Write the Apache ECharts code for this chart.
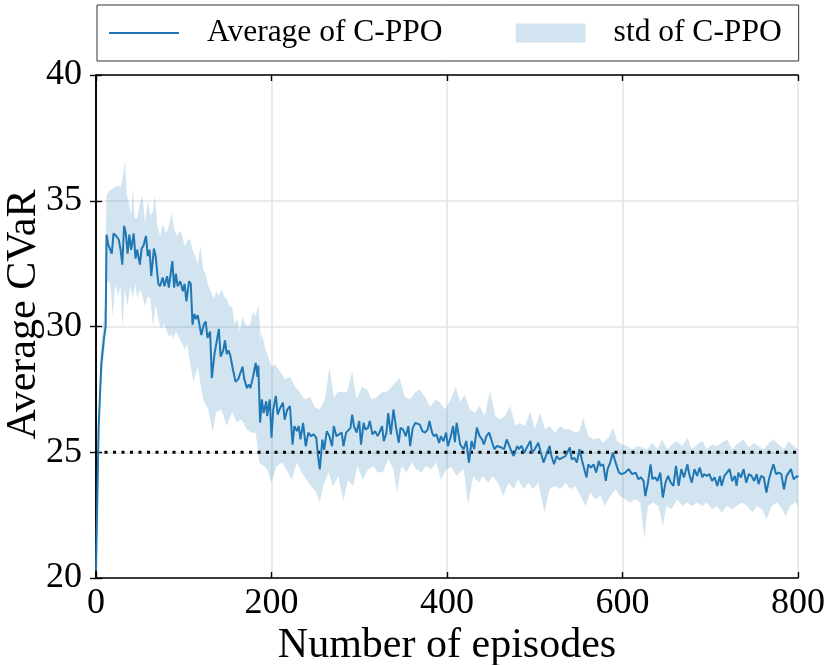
<!DOCTYPE html>
<html>
<head>
<meta charset="utf-8">
<script src="https://cdn.jsdelivr.net/npm/echarts@6/dist/echarts.min.js"></script>
<style>html,body{margin:0;padding:0;background:#fff}#c{width:824px;height:665px}</style>
</head>
<body>
<div id="c"></div>
<script>
// x ticks / y ticks
const xTicks = [0, 200, 400, 600, 800];
const yTicks = [20, 25, 30, 35, 40];
const refLine = 25;

// Average of C-PPO
const meanX = [0,3,6,9,11,12,14,16,18,20,23,26,28,30,32,34,36,38,40,43,45,47,50,52,54,57,59,61,63,66,68,71,73,76,78,81,83,87,89,91,93,96,99,101,103,106,108,110,112,114,116,118,120,123,125,127,130,132,135,137,140,142,145,147,149,151,153,156,159,162,164,167,169,172,174,176,179,182,184,185,187,189,191,194,195,198,200,202,205,207,210,213,215,218,221,224,226,229,231,233,236,239,242,245,248,251,253,255,258,260,263,266,269,271,274,277,280,282,285,287,290,292,294,297,300,302,305,307,310,312,315,318,321,323,326,328,331,333,336,339,342,345,347,350,353,356,358,361,364,366,369,372,375,378,380,383,385,388,391,393,396,399,401,404,407,409,411,415,419,422,425,428,431,434,437,440,442,445,448,451,454,457,459,462,465,468,471,474,476,480,482,485,488,491,495,497,500,504,507,510,514,517,519,522,525,528,531,535,537,540,542,545,548,551,554,556,559,561,564,567,570,573,575,578,581,583,586,589,591,594,596,599,603,607,611,615,618,621,624,626,629,632,634,637,640,643,646,649,652,655,658,661,664,667,670,674,676,679,682,685,688,691,693,696,699,702,705,708,711,713,716,719,722,725,728,730,732,735,738,741,744,747,750,753,755,758,761,764,767,769,772,775,778,781,784,787,789,792,795,799,800];
const meanY = [20.3,26.0,28.5,29.5,30.0,33.65,33.25,33.3,32.9,33.7,33.6,33.45,33.05,32.46,34.0,33.7,32.9,33.65,33.05,33.7,32.7,33.05,32.46,33.1,33.2,33.6,32.8,33.05,32.0,33.1,32.8,31.7,31.6,31.95,31.6,32.0,31.55,32.6,31.55,32.1,31.6,31.8,31.4,31.7,31.0,31.8,31.7,30.07,30.5,30.3,30.45,30.45,29.66,30.1,30.2,29.55,29.8,27.95,28.9,29.3,29.9,28.8,29.05,29.45,28.9,29.05,28.85,28.3,27.8,27.9,28.1,28.4,27.9,27.55,27.7,27.55,28.0,28.55,28.0,28.45,26.18,27.1,26.56,27.03,26.44,27.1,25.58,26.7,27.24,26.5,26.77,26.97,26.3,26.7,26.84,25.3,26.04,25.84,26.04,25.51,26.17,25.24,25.78,25.64,25.71,25.58,24.85,24.32,25.5,25.1,25.84,25.64,25.24,26.04,25.64,25.71,25.78,25.24,25.78,25.71,25.97,26.5,26.04,25.78,26.24,25.3,26.17,25.9,25.97,26.24,25.71,25.84,25.64,25.78,26.04,25.44,25.78,26.56,25.71,26.7,25.97,25.37,25.97,25.9,25.64,26.04,25.24,25.97,26.17,26.17,26.1,25.84,25.78,25.9,26.24,25.78,25.64,25.71,25.37,25.64,25.44,25.78,25.24,25.6,26.04,25.4,26.17,25.31,25.12,25.45,24.59,25.45,25.12,25.98,25.65,25.51,25.31,25.65,25.78,25.45,25.12,25.25,25.19,25.19,25.12,25.51,25.25,24.98,24.85,25.25,25.12,25.25,24.98,25.19,25.45,24.98,25.12,25.38,24.98,24.59,24.98,25.25,24.85,24.52,24.85,24.72,24.78,24.85,24.85,25.19,24.72,24.78,24.59,25.12,24.65,24.72,24.0,24.52,24.39,24.52,24.19,24.65,24.46,24.52,23.86,24.33,24.59,24.98,24.72,24.39,24.19,24.13,24.19,24.33,24.13,24.19,23.93,24.0,23.86,23.26,23.79,24.52,23.93,24.0,23.86,24.19,23.2,23.79,24.06,23.79,23.66,24.46,23.66,24.33,24.0,24.52,24.13,23.79,24.33,24.06,24.39,24.0,24.13,24.06,24.13,23.86,24.0,23.66,24.06,23.66,24.06,24.19,24.33,23.86,24.06,23.66,24.19,24.0,24.33,23.79,24.13,24.06,23.86,24.13,23.73,24.06,24.0,23.4,23.93,24.19,24.52,24.13,24.19,24.13,23.53,24.06,24.13,24.33,23.93,24.06,24.0];

// std band of C-PPO: upper edge
const upperX = [0,5,10,12,15,20,24,28,30,33,35,37,40,42,44,47,50,53,56,59,62,65,67,70,73,76,80,83,86,89,92,95,98,101,104,107,110,113,116,119,122,125,128,131,134,137,140,143,146,149,152,155,158,161,164,167,170,173,176,179,182,185,188,189,193,197,200,204,210,215,221,227,232,238,244,249,255,261,266,271,276,282,286,292,297,303,309,314,320,326,331,337,346,352,358,364,369,375,381,387,392,398,404,410,415,420,426,432,437,443,449,455,460,466,472,478,483,489,495,500,506,512,517,523,529,534,540,546,551,555,561,567,573,578,584,589,594,599,605,611,617,622,628,634,640,645,651,656,662,668,674,679,685,691,696,702,708,713,719,725,730,738,744,750,755,761,767,772,778,784,789,795,800];
const upperY = [20.6,28.8,30.8,35.2,35.4,35.5,35.6,35.55,35.8,36.6,35.2,35.0,34.4,35.5,34.3,34.3,34.9,35.2,34.1,35.0,34.4,34.6,35.2,34.0,33.6,34.1,33.7,34.0,34.5,33.9,33.6,33.8,33.65,33.2,33.4,33.5,33.05,32.8,32.5,33.2,32.3,32.1,31.6,31.4,31.1,31.4,31.2,31.5,31.2,31.1,30.8,30.8,30.1,30.3,29.8,30.4,30.1,30.0,30.1,30.6,30.4,30.9,29.4,29.75,29.1,28.7,28.4,28.5,28.2,27.9,28.0,27.6,27.4,27.1,27.2,26.8,26.7,27.1,28.4,27.2,27.4,27.4,27.4,28.2,27.1,27.6,27.5,27.1,27.2,27.4,27.4,27.6,27.95,27.2,27.1,27.4,27.5,27.2,26.8,27.1,26.97,26.7,27.1,27.6,27.0,27.3,26.7,26.57,26.84,26.45,27.43,26.45,26.3,26.45,26.84,26.04,26.17,26.04,26.64,25.91,26.57,25.91,26.04,25.78,26.04,25.91,25.91,25.78,25.85,26.37,25.65,25.51,25.58,25.38,25.58,25.98,25.45,25.31,25.25,25.12,25.25,25.19,25.12,25.38,25.12,25.51,25.12,25.31,25.45,25.25,25.58,25.12,25.31,25.45,25.12,25.31,25.25,25.38,25.51,25.12,25.31,25.51,25.19,25.38,25.25,25.12,25.38,25.51,25.31,25.12,25.45,25.25,25.12];

// std band of C-PPO: lower edge
const lowerX = [0,5,10,12,15,17,19,22,25,28,30,33,36,39,42,45,47,50,53,56,59,62,65,68,71,74,77,80,83,86,88,91,94,97,101,104,107,111,116,122,128,133,137,143,149,155,160,166,172,177,182,186,191,195,200,206,212,217,223,229,234,240,245,251,255,259,265,270,276,282,287,293,298,304,310,316,321,327,333,339,343,348,354,360,365,371,376,382,388,393,399,405,411,419,424,430,436,441,447,452,458,464,470,476,481,487,493,498,504,511,517,523,529,535,541,546,552,558,563,569,575,580,586,592,597,603,609,615,620,625,629,635,641,646,650,656,662,668,674,679,685,691,696,702,708,713,719,725,730,736,742,748,753,759,764,770,776,782,786,791,797,800];
const lowerY = [20.0,27.3,29.2,31.7,31.8,31.5,30.4,31.7,31.2,31.6,29.95,31.5,30.8,31.6,31.1,31.7,31.1,31.5,31.2,30.8,31.2,31.1,30.0,30.9,30.3,29.9,30.1,29.9,29.6,29.7,29.5,29.8,29.6,29.4,29.1,29.3,28.6,27.8,28.4,27.1,26.7,25.8,26.6,26.7,26.04,26.6,26.2,26.3,25.9,25.78,25.78,24.6,24.45,24.32,23.8,24.45,24.6,24.32,23.9,24.6,24.2,23.9,23.66,23.4,23.0,23.66,24.2,23.66,24.05,23.07,23.9,23.66,24.45,23.9,24.32,24.45,24.2,24.2,24.72,24.32,23.4,24.45,24.2,24.6,24.32,24.2,24.45,24.32,24.6,23.9,24.32,24.4,24.06,24.33,22.93,24.06,23.79,24.06,23.79,24.06,23.79,23.26,23.79,23.53,23.93,23.53,23.79,23.53,23.79,22.6,23.53,23.66,23.53,23.79,23.53,23.66,23.26,22.86,23.4,23.13,23.26,22.86,23.26,23.53,23.26,23.13,23.0,23.13,23.0,21.6,22.86,23.0,22.86,22.07,22.86,22.73,23.13,22.86,23.0,22.86,23.0,22.86,23.0,22.73,22.86,22.6,22.86,22.73,22.86,23.0,22.86,22.6,22.86,22.73,22.33,22.86,23.0,22.73,22.46,22.86,23.0,22.86];

const names = ['Average of C-PPO', 'std of C-PPO'];

const FONT = '"Liberation Serif", "DejaVu Serif", serif';
const chart = echarts.init(document.getElementById('c'), null, {renderer: 'canvas'});

const meanData = meanX.map((x, i) => [x, meanY[i]]);
const bandColor = 'rgba(31,119,180,0.2)';

const axisCommon = {
  axisLine: {show: true, lineStyle: {color: '#000', width: 1.6}},
  axisTick: {show: true, inside: true, length: 6, lineStyle: {color: '#000', width: 1.4}},
};

const option = {
  animation: false,
  backgroundColor: '#fff',
  grid: {left: 96, right: 26, top: 75, bottom: 87, show: false, containLabel: false, outerBoundsMode: 'none'},
  legend: {
    left: 97, top: 5,
    data: [
      {name: names[0], itemStyle: {opacity: 0}},
      {name: names[1], icon: 'rect', itemStyle: {color: '#d2e4f0'}}
    ],
    itemWidth: 70, itemHeight: 19, itemGap: 73,
    padding: [12, 17, 12, 11],
    borderColor: '#333', borderWidth: 1, borderRadius: 0,
    textStyle: {fontFamily: FONT, fontSize: 31.5, color: '#000', padding: [0, 0, 0, 23]},
    selectedMode: false
  },
  xAxis: [
    Object.assign({
      type: 'value', min: xTicks[0], max: xTicks[xTicks.length - 1], interval: 200,
      name: 'Number of episodes', nameLocation: 'middle', nameGap: 47, nameMoveOverlap: false,
      nameTextStyle: {fontFamily: FONT, fontSize: 42, color: '#000'},
      axisLabel: {fontFamily: FONT, fontSize: 36, color: '#000', margin: 8},
      splitLine: {show: true, lineStyle: {color: '#e3e3e3', width: 1.5}}
    }, axisCommon),
    Object.assign({
      type: 'value', position: 'top', min: xTicks[0], max: xTicks[xTicks.length - 1], interval: 200,
      axisLabel: {show: false}, splitLine: {show: false}
    }, axisCommon)
  ],
  yAxis: [
    Object.assign({
      type: 'value', min: yTicks[0], max: yTicks[yTicks.length - 1], interval: 5,
      name: 'Average CVaR', nameLocation: 'middle', nameGap: 51, nameMoveOverlap: false,
      nameTextStyle: {fontFamily: FONT, fontSize: 42, color: '#000', padding: [0, 0, 0, 24]},
      axisLabel: {fontFamily: FONT, fontSize: 36, color: '#000', margin: 14},
      splitLine: {show: true, lineStyle: {color: '#e3e3e3', width: 1.5}}
    }, axisCommon),
    Object.assign({
      type: 'value', position: 'right', min: yTicks[0], max: yTicks[yTicks.length - 1], interval: 5,
      axisLabel: {show: false}, splitLine: {show: false}
    }, axisCommon)
  ],
  series: [
    {
      name: names[1],
      type: 'custom',
      xAxisIndex: 0, yAxisIndex: 0,
      data: [[0, 25]],
      itemStyle: {color: '#d2e4f0'},
      clip: true,
      z: 2,
      renderItem: function (params, api) {
        const pts = [];
        for (let i = 0; i < upperX.length; i++) pts.push(api.coord([upperX[i], upperY[i]]));
        for (let i = lowerX.length - 1; i >= 0; i--) pts.push(api.coord([lowerX[i], lowerY[i]]));
        return {type: 'polygon', shape: {points: pts}, style: {fill: bandColor, stroke: null}};
      }
    },
    {
      name: 'ref',
      type: 'line',
      data: [[xTicks[0], refLine], [xTicks[xTicks.length - 1], refLine]],
      symbol: 'none',
      lineStyle: {color: '#000', width: 3, type: [3, 5.5]},
      z: 4,
      silent: true
    },
    {
      name: names[0],
      type: 'line',
      data: meanData,
      symbol: 'none',
      showSymbol: false,
      itemStyle: {color: '#1f77b4'},
      lineStyle: {color: '#1f77b4', width: 2},
      z: 5
    }
  ]
};
chart.setOption(option);
</script>
</body>
</html>
